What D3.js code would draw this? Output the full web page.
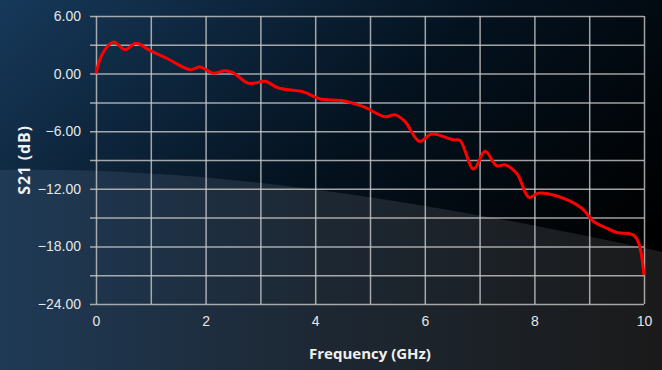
<!DOCTYPE html>
<html>
<head>
<meta charset="utf-8">
<script src="https://cdn.jsdelivr.net/npm/d3@7"></script>
<style>
  body { margin: 0; background: #000; }
  svg { display: block; font-family: "Open Sans", "Noto Sans", sans-serif; }
</style>
</head>
<body>
<div id="chart"></div>
<script>
// frequency in GHz
const freq = [0, 0.12, 0.32, 0.53, 0.73, 0.99, 1.29, 1.72, 1.9, 2.14, 2.35, 2.5, 2.78, 3.05, 3.1, 3.33,
  3.78, 4.09, 4.48, 4.88, 5.27, 5.46, 5.64, 5.9, 6.13, 6.52, 6.64, 6.89, 7.1, 7.31, 7.46, 7.68,
  7.9, 8.07, 8.41, 8.86, 9.08, 9.32, 9.5, 9.8, 9.9, 10];
// S21 in dB
const s21 = [0, 2.1, 3.3, 2.5, 3.15, 2.4, 1.6, 0.4, 0.7, 0.05, 0.3, 0.1, -1.0, -0.8, -0.8, -1.5,
  -1.9, -2.65, -2.8, -3.45, -4.5, -4.3, -5.0, -7.05, -6.3, -6.9, -6.95, -9.95, -8.1, -9.6, -9.5, -10.4,
  -12.9, -12.45, -12.75, -14.0, -15.4, -16.1, -16.55, -16.8, -17.6, -21.0];

const xTicks = [0, 2, 4, 6, 8, 10];
const yTicks = [6, 0, -6, -12, -18, -24];

const width = 662, height = 370;
const margin = {top: 16, right: 18, bottom: 66, left: 96};
const plotW = width - margin.left - margin.right,
  plotH = height - margin.top - margin.bottom;

const svg = d3.select("#chart").append("svg")
  .attr("width", width)
  .attr("height", height);

const defs = svg.append("defs");
const bg = defs.append("linearGradient").attr("id", "bg")
  .attr("x1", "0").attr("y1", "0").attr("x2", "1").attr("y2", "0.6");
bg.append("stop").attr("offset", "0").attr("stop-color", "#17395a");
bg.append("stop").attr("offset", "0.55").attr("stop-color", "#04121f");
bg.append("stop").attr("offset", "1").attr("stop-color", "#000000");

const low = defs.append("linearGradient").attr("id", "low")
  .attr("x1", "0").attr("y1", "0").attr("x2", "1").attr("y2", "0");
low.append("stop").attr("offset", "0").attr("stop-color", "#1f3a56");
low.append("stop").attr("offset", "0.5").attr("stop-color", "#1d2732");
low.append("stop").attr("offset", "1").attr("stop-color", "#1a1a1a");

svg.append("rect").attr("width", width).attr("height", height).attr("fill", "url(#bg)");
svg.append("path")
  .attr("d", "M0,170 C200,167 400,195 662,252 L662,370 L0,370 Z")
  .attr("fill", "url(#low)");

const x = d3.scaleLinear().domain([0, 10]).range([margin.left, width - margin.right]);
const y = d3.scaleLinear().domain([-24, 6]).range([height - margin.bottom, margin.top]);

const g = svg.append("g");

// grid
g.append("g")
  .attr("transform", "translate(0," + (height - margin.bottom) + ")")
  .call(d3.axisBottom(x).ticks(10).tickSize(-plotH).tickFormat(""))
  .call(a => a.select(".domain").remove())
  .selectAll("line").attr("stroke", "#c9c9c9").attr("stroke-opacity", 0.8).attr("stroke-width", 1.5);

g.append("g")
  .attr("transform", "translate(" + margin.left + ",0)")
  .call(d3.axisLeft(y).tickValues(d3.range(-24, 7, 3)).tickSize(-plotW).tickFormat(""))
  .call(a => a.select(".domain").remove())
  .selectAll("line").attr("stroke", "#c9c9c9").attr("stroke-opacity", 0.8).attr("stroke-width", 1.5)
  .attr("x1", -6).attr("x2", plotW);

// tick labels
g.append("g")
  .attr("transform", "translate(0," + (height - margin.bottom) + ")")
  .call(d3.axisBottom(x).tickValues(xTicks).tickSize(0).tickPadding(12).tickFormat(d3.format("d")))
  .call(a => a.select(".domain").remove())
  .selectAll("text").attr("fill", "#e6e6e6").style("font-size", "14px");

g.append("g")
  .attr("transform", "translate(" + margin.left + ",0)")
  .call(d3.axisLeft(y).tickValues(yTicks).tickSize(0).tickPadding(15).tickFormat(d3.format(".2f")))
  .call(a => a.select(".domain").remove())
  .selectAll("text").attr("fill", "#e6e6e6").style("font-size", "14px");

// axis titles
svg.append("text")
  .attr("x", 370)
  .attr("y", 359)
  .attr("text-anchor", "middle")
  .attr("fill", "#f0f0f0")
  .style("font-size", "15px").style("font-weight", "bold")
  .text("Frequency (GHz)");

svg.append("text")
  .attr("transform", "translate(30," + ((margin.top + height - margin.bottom) / 2) + ") rotate(-90)")
  .attr("text-anchor", "middle")
  .attr("fill", "#f0f0f0")
  .style("font-size", "16px").style("font-weight", "bold").style("letter-spacing", "0.8px")
  .text("S21 (dB)");

// curve
const line = d3.line()
  .x((d, i) => x(freq[i]))
  .y(d => y(d))
  .curve(d3.curveCatmullRom.alpha(0.5));

svg.append("path")
  .datum(s21)
  .attr("d", line)
  .attr("fill", "none")
  .attr("stroke", "#ff0000")
  .attr("stroke-width", 3)
  .attr("stroke-linejoin", "round");
</script>
</body>
</html>
